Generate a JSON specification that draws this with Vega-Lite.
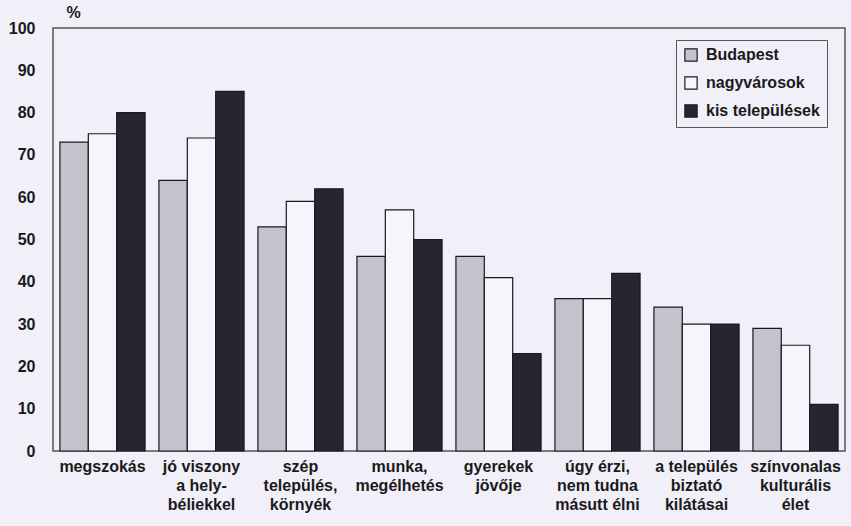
{
  "$schema": "https://vega.github.io/schema/vega-lite/v6.json",
  "width": 792,
  "height": 423,
  "autosize": "none",
  "padding": {"left": 53, "top": 28, "right": 6, "bottom": 75},
  "background": "#f1eff8",
  "config": {
    "view": {"stroke": "#555555", "strokeWidth": 1.5, "fill": "#f1eff8"},
    "font": "Liberation Sans"
  },
  "data": {
    "values": [
      {"kat": "megszokás", "csoport": "Budapest", "ertek": 73},
      {"kat": "megszokás", "csoport": "nagyvárosok", "ertek": 75},
      {"kat": "megszokás", "csoport": "kis települések", "ertek": 80},
      {"kat": "jó viszony|a hely-|béliekkel", "csoport": "Budapest", "ertek": 64},
      {"kat": "jó viszony|a hely-|béliekkel", "csoport": "nagyvárosok", "ertek": 74},
      {"kat": "jó viszony|a hely-|béliekkel", "csoport": "kis települések", "ertek": 85},
      {"kat": "szép|település,|környék", "csoport": "Budapest", "ertek": 53},
      {"kat": "szép|település,|környék", "csoport": "nagyvárosok", "ertek": 59},
      {"kat": "szép|település,|környék", "csoport": "kis települések", "ertek": 62},
      {"kat": "munka,|megélhetés", "csoport": "Budapest", "ertek": 46},
      {"kat": "munka,|megélhetés", "csoport": "nagyvárosok", "ertek": 57},
      {"kat": "munka,|megélhetés", "csoport": "kis települések", "ertek": 50},
      {"kat": "gyerekek|jövője", "csoport": "Budapest", "ertek": 46},
      {"kat": "gyerekek|jövője", "csoport": "nagyvárosok", "ertek": 41},
      {"kat": "gyerekek|jövője", "csoport": "kis települések", "ertek": 23},
      {"kat": "úgy érzi,|nem tudna|másutt élni", "csoport": "Budapest", "ertek": 36},
      {"kat": "úgy érzi,|nem tudna|másutt élni", "csoport": "nagyvárosok", "ertek": 36},
      {"kat": "úgy érzi,|nem tudna|másutt élni", "csoport": "kis települések", "ertek": 42},
      {"kat": "a település|biztató|kilátásai", "csoport": "Budapest", "ertek": 34},
      {"kat": "a település|biztató|kilátásai", "csoport": "nagyvárosok", "ertek": 30},
      {"kat": "a település|biztató|kilátásai", "csoport": "kis települések", "ertek": 30},
      {"kat": "színvonalas|kulturális|élet", "csoport": "Budapest", "ertek": 29},
      {"kat": "színvonalas|kulturális|élet", "csoport": "nagyvárosok", "ertek": 25},
      {"kat": "színvonalas|kulturális|élet", "csoport": "kis települések", "ertek": 11}
    ]
  },
  "layer": [
    {
      "mark": {"type": "bar", "stroke": "#1a1a22", "strokeWidth": 1.2},
      "encoding": {
        "x": {
          "field": "kat", "type": "nominal", "sort": null,
          "scale": {"paddingInner": 0.14, "paddingOuter": 0.07},
          "axis": {
            "title": null, "labelAngle": 0, "ticks": false, "domain": false,
            "labelExpr": "split(datum.label, '|')",
            "labelFont": "Liberation Sans", "labelFontSize": 16, "labelFontWeight": "bold",
            "labelColor": "#1a1a1a", "labelPadding": 7, "labelLineHeight": 19,
            "labelBaseline": "top", "labelLimit": 120
          }
        },
        "xOffset": {"field": "csoport", "type": "nominal", "sort": ["Budapest", "nagyvárosok", "kis települések"]},
        "y": {
          "field": "ertek", "type": "quantitative",
          "scale": {"domain": [0, 100]},
          "axis": {
            "title": "%", "titleAngle": 0, "titleAnchor": "end", "titleAlign": "left",
            "titleX": 13, "titleY": -8, "titleFontSize": 16, "titleFontWeight": "bold", "titleColor": "#1a1a1a",
            "values": [0, 10, 20, 30, 40, 50, 60, 70, 80, 90, 100],
            "ticks": false, "domain": false, "grid": false,
            "labelFont": "Liberation Sans", "labelFontSize": 16, "labelFontWeight": "bold",
            "labelColor": "#1a1a1a", "labelPadding": 18
          }
        },
        "fill": {
          "field": "csoport", "type": "nominal",
          "scale": {"domain": ["Budapest", "nagyvárosok", "kis települések"], "range": ["#c4c3cc", "#f6f5fb", "#262632"]},
          "legend": {
            "title": null, "orient": "none", "legendX": 623, "legendY": 12,
            "symbolType": "square", "symbolSize": 150, "symbolStrokeColor": "#1a1a22", "symbolStrokeWidth": 1.2,
            "labelFont": "Liberation Sans", "labelFontSize": 16, "labelFontWeight": "bold", "labelColor": "#1a1a1a",
            "rowPadding": 10, "padding": 7, "strokeColor": "#555555", "fillColor": "#f1eff8",
            "labelOffset": 7, "labelLimit": 200
          }
        }
      }
    }
  ]
}
